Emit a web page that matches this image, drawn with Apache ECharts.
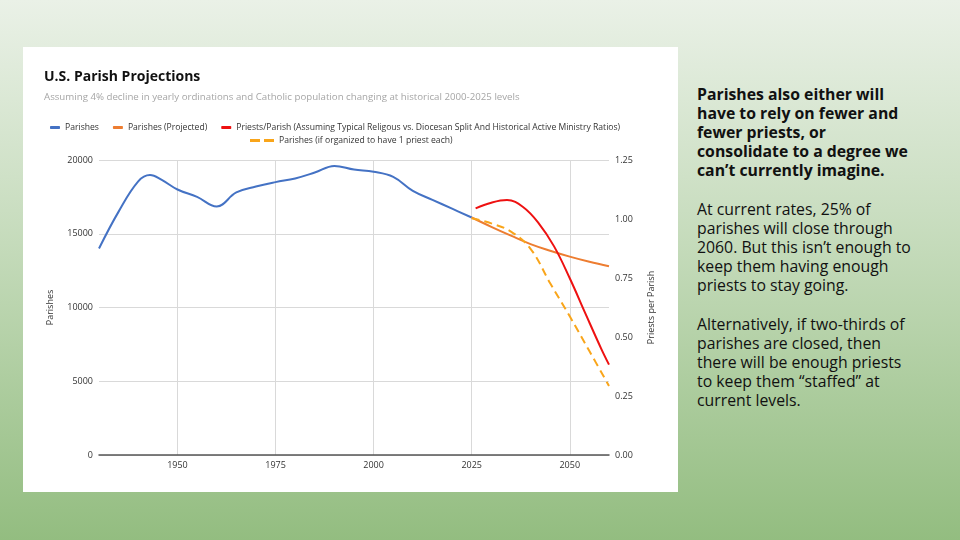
<!DOCTYPE html>
<html>
<head>
    <meta charset="utf-8">
    <title>U.S. Parish Projections</title>
    <script src="https://cdn.jsdelivr.net/npm/echarts@6/dist/echarts.min.js"></script>
<style>
    html, body {
        margin: 0;
        width: 960px;
        height: 540px;
        overflow: hidden;
    }
    body {
        position: relative;
        background: linear-gradient(to bottom, #eaf1e7 0%, #c5dbbb 45%, #93bd80 100%);
        font-family: "Open Sans", sans-serif;
    }
    #chart {
        position: absolute;
        left: 23px;
        top: 47px;
        width: 655px;
        height: 445px;
        background: #fff;
    }
    .side {
        position: absolute;
        left: 697px;
        top: 85px;
        width: 260px;
        color: #111;
        font-size: 15.8px;
        line-height: 19px;
    }
    .side p { margin: 0 0 20px 0; }
    .side .lead { font-weight: bold; }
</style>
</head>
<body>

<div id="chart"></div>

<div class="side">
    <p class="lead">Parishes also either will<br>have to rely on fewer and<br>fewer priests, or<br>consolidate to a degree we<br>can’t currently imagine.</p>
    <p>At current rates, 25% of<br>parishes will close through<br>2060. But this isn’t enough to<br>keep them having enough<br>priests to stay going.</p>
    <p>Alternatively, if two-thirds of<br>parishes are closed, then<br>there will be enough priests<br>to keep them “staffed” at<br>current levels.</p>
</div>

<script type="text/javascript">
// data
var parishYears  = [1930, 1935, 1940, 1943, 1946, 1950, 1955, 1960, 1965, 1970, 1975, 1980, 1985, 1990, 1995, 2000, 2005, 2010, 2015, 2020, 2025];
var parishValues = [14000, 16500, 18550, 18980, 18650, 18000, 17500, 16850, 17800, 18200, 18500, 18750, 19150, 19600, 19350, 19200, 18850, 17900, 17300, 16700, 16100];

var projYears  = [2025, 2030, 2035, 2040, 2045, 2050, 2055, 2060];
var projValues = [16100, 15470, 14870, 14300, 13850, 13450, 13100, 12800];

// right axis, priests per parish
var priestYears  = [2026, 2030, 2034, 2038, 2042, 2046, 2050, 2054, 2058, 2060];
var priestValues = [1.045, 1.069, 1.080, 1.052, 0.984, 0.884, 0.749, 0.599, 0.451, 0.383];

var onePriestYears  = [2025, 2030, 2035, 2040, 2045, 2050, 2055, 2060];
var onePriestValues = [16050, 15700, 15150, 13980, 11650, 9400, 7050, 4680];

var yearTicks = [1950, 1975, 2000, 2025, 2050];

var seriesNames = [
    'Parishes',
    'Parishes (Projected)',
    'Priests/Parish (Assuming Typical Religous vs. Diocesan Split And Historical Active Ministry Ratios)',
    'Parishes (if organized to have 1 priest each)'
];

function pairs(xs, ys) {
    var out = [];
    for (var i = 0; i < xs.length; i++) {
        out.push([xs[i], ys[i]]);
    }
    return out;
}

var font = '"Open Sans", sans-serif';
var chart = echarts.init(document.getElementById('chart'));

var option = {
    animation: false,
    textStyle: { fontFamily: font },
    title: {
        text: 'U.S. Parish Projections',
        subtext: 'Assuming 4% decline in yearly ordinations and Catholic population changing at historical 2000-2025 levels',
        left: 16,
        top: 18,
        itemGap: 8,
        textStyle: { fontSize: 14, fontWeight: 'bold', color: '#111', fontFamily: font },
        subtextStyle: { fontSize: 9.7, color: '#a6a6a6', fontFamily: font }
    },
    legend: [{
        data: seriesNames.slice(0, 3),
        left: 22,
        top: 71,
        itemWidth: 10,
        itemHeight: 3,
        itemGap: 14,
        icon: 'roundRect',
        textStyle: { fontSize: 8.6, color: '#333', fontFamily: font }
    }, {
        data: [seriesNames[3]],
        left: 222,
        top: 84,
        itemWidth: 24,
        itemHeight: 3,
        icon: 'path://M0,0H10V3H0Z M14,0H24V3H14Z',
        textStyle: { fontSize: 8.6, color: '#333', fontFamily: font }
    }],
    grid: {
        left: 76,
        right: 69,
        top: 113,
        bottom: 37
    },
    xAxis: {
        type: 'value',
        min: 1930,
        max: 2060,
        axisLine: { show: true, lineStyle: { color: '#555', width: 1.5 } },
        axisTick: { show: false, customValues: yearTicks },
        axisLabel: {
            customValues: yearTicks, color: '#333', fontSize: 9, margin: 6,
            formatter: function (v) { return String(v); }
        },
        splitLine: { show: true, lineStyle: { color: '#d9d9d9' } }
    },
    yAxis: [{
        type: 'value',
        min: 0,
        max: 20000,
        interval: 5000,
        name: 'Parishes',
        nameLocation: 'middle',
        nameRotate: 90,
        nameGap: 44,
        nameTextStyle: { fontSize: 9, color: '#333' },
        axisLine: { show: false },
        axisTick: { show: false },
        axisLabel: {
            color: '#333', fontSize: 9, margin: 6,
            formatter: function (v) { return String(v); }
        },
        splitLine: { lineStyle: { color: '#d9d9d9' } }
    }, {
        type: 'value',
        position: 'right',
        min: 0,
        max: 1.25,
        interval: 0.25,
        name: 'Priests per Parish',
        nameLocation: 'middle',
        nameRotate: 90,
        nameGap: 38,
        nameTextStyle: { fontSize: 9, color: '#333' },
        axisLine: { show: false },
        axisTick: { show: false },
        axisLabel: {
            color: '#333', fontSize: 9, margin: 6,
            formatter: function (v) { return v.toFixed(2); }
        },
        splitLine: { show: false }
    }],
    series: [{
        name: seriesNames[0],
        type: 'line',
        yAxisIndex: 0,
        data: pairs(parishYears, parishValues),
        smooth: 0.4,
        symbol: 'none',
        color: '#4472c4',
        lineStyle: { width: 2 }
    }, {
        name: seriesNames[1],
        type: 'line',
        yAxisIndex: 0,
        data: pairs(projYears, projValues),
        smooth: 0.4,
        symbol: 'none',
        color: '#ed7d31',
        lineStyle: { width: 2 }
    }, {
        name: seriesNames[2],
        type: 'line',
        yAxisIndex: 1,
        data: pairs(priestYears, priestValues),
        smooth: 0.4,
        symbol: 'none',
        color: '#ee1111',
        lineStyle: { width: 2 }
    }, {
        name: seriesNames[3],
        type: 'line',
        yAxisIndex: 0,
        data: pairs(onePriestYears, onePriestValues),
        smooth: 0.4,
        symbol: 'none',
        color: '#f9a51a',
        lineStyle: { width: 2, type: [8, 5] }
    }]
};

chart.setOption(option);
</script>
</body>
</html>
